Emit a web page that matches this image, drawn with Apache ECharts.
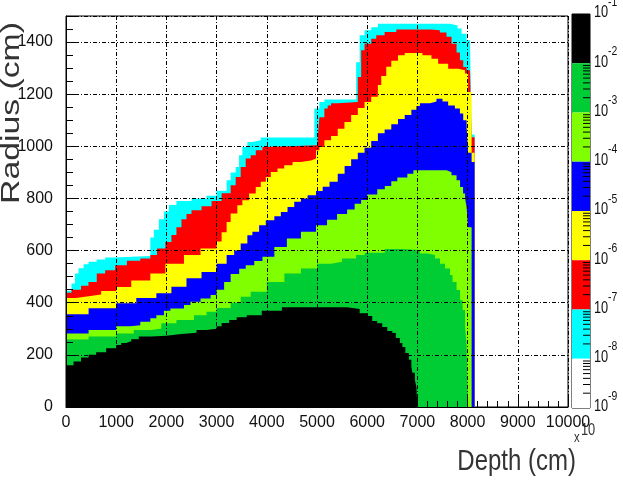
<!DOCTYPE html>
<html>
<head>
<meta charset="utf-8">
<script src="https://cdn.jsdelivr.net/npm/echarts@6.0.0/dist/echarts.min.js"></script>
<style>
  html, body { margin: 0; padding: 0; background: #fff; }
  #chart { width: 623px; height: 485px; }
</style>
</head>
<body>
<div id="chart"></div>
<script>
// upper edge (radius, cm) of each contour level along depth
const cyanEdge = [[0,446],[110,474],[180,512],[250,532],[350,548],[450,557],[610,566],[780,574],[980,579],[1680,650],[1750,680],[1850,720],[1950,750],[2050,775],[2200,790],[2500,800],[2800,810],[3000,830],[3200,870],[3280,900],[3380,921],[3447,966],[3513,997],[3613,1017],[3713,1023],[3880,1034],[4947,1145],[5047,1170],[5147,1180],[5780,1323],[5850,1426],[5947,1445],[6080,1457],[6213,1470],[7650,1464],[7800,1452],[7880,1432],[7980,1407],[8050,1369],[8080,1045],[8140,0]];
const redEdge = [[0,438],[110,450],[300,465],[447,480],[613,512],[780,525],[980,544],[1213,561],[1480,570],[1680,583],[1813,608],[1980,633],[2100,660],[2200,690],[2300,720],[2400,740],[2500,755],[2700,770],[2900,790],[3100,820],[3280,851],[3380,882],[3480,921],[3580,953],[3680,966],[3780,985],[3913,997],[4013,1004],[5013,1030],[5047,1112],[5147,1145],[5213,1157],[5280,1165],[5413,1170],[5813,1266],[5880,1369],[5947,1394],[6080,1413],[6180,1426],[6347,1439],[6580,1448],[7280,1445],[7447,1437],[7580,1420],[7680,1394],[7780,1360],[7847,1330],[7913,1304],[7980,1292],[8047,1285],[8080,1035],[8140,0]];
const yellowEdge = [[0,418],[200,425],[450,432],[700,445],[1000,460],[1300,485],[1680,512],[1980,550],[2350,583],[2680,608],[3000,635],[3100,670],[3200,710],[3280,742],[3413,774],[3513,793],[3647,819],[3780,844],[3880,864],[3980,882],[4080,902],[4213,915],[4347,927],[4513,940],[4680,946],[4880,953],[4980,985],[5047,997],[5147,1023],[5280,1040],[5413,1067],[5547,1093],[5680,1120],[5813,1147],[5947,1170],[6080,1190],[6213,1235],[6280,1270],[6380,1305],[6480,1328],[6613,1349],[6747,1358],[7100,1349],[7280,1336],[7413,1317],[7613,1298],[7813,1292],[7947,1279],[8010,1208],[8080,975],[8140,0]];
const blueEdge = [[0,356],[450,379],[1000,398],[1400,418],[1800,436],[2100,461],[2400,494],[2700,518],[3000,550],[3200,583],[3350,600],[3480,627],[3613,659],[3713,672],[3847,697],[3980,716],[4150,732],[4280,748],[4413,767],[4547,787],[4680,800],[4813,812],[4980,829],[5113,845],[5250,864],[5413,895],[5550,925],[5680,950],[5813,975],[5947,995],[6080,1020],[6213,1050],[6347,1065],[6480,1085],[6613,1105],[6747,1120],[6880,1140],[6980,1155],[7050,1165],[7250,1172],[7380,1183],[7500,1172],[7613,1157],[7747,1145],[7847,1126],[7913,1100],[7980,1074],[8010,975],[8080,940],[8140,0]];
const limeEdge = [[0,282],[450,295],[1000,310],[1280,314],[1480,327],[1680,340],[1800,352],[1950,369],[2080,378],[2350,391],[2480,404],[2680,416],[2880,430],[3000,450],[3150,480],[3280,510],[3450,530],[3580,544],[3750,560],[3913,576],[4150,614],[4400,646],[4680,672],[4980,697],[5200,718],[5400,740],[5600,758],[5750,780],[5880,794],[6000,815],[6200,835],[6350,848],[6480,866],[6600,880],[6800,895],[6920,908],[7580,901],[7680,889],[7780,870],[7850,844],[7910,819],[7950,800],[7980,767],[8010,690],[8080,0]];
const greenEdge = [[0,259],[450,270],[1000,282],[1350,295],[1700,301],[1900,321],[2200,334],[2550,352],[2800,365],[3000,380],[3280,400],[3480,423],[3680,442],[4000,480],[4350,512],[4680,531],[5000,550],[5280,557],[5500,570],[5780,583],[5950,592],[6350,606],[6700,602],[7050,589],[7200,583],[7350,570],[7450,550],[7550,531],[7650,506],[7700,480],[7780,449],[7850,410],[7900,372],[7950,308],[7980,240],[8010,0]];
const blackEdge = [[0,160],[150,175],[300,190],[450,200],[600,210],[800,225],[1000,238],[1100,246],[1200,252],[1300,260],[1450,270],[1700,273],[2000,280],[2300,285],[2600,295],[2800,300],[3000,310],[3100,322],[3250,334],[3400,344],[3600,352],[3900,369],[4300,383],[5600,376],[5850,360],[6000,349],[6100,330],[6200,321],[6300,307],[6400,292],[6500,284],[6570,265],[6650,246],[6700,230],[6760,207],[6830,181],[6880,154],[6900,131],[6950,104],[6980,77],[7000,0]];

// colour scale: decade bands from top (1e-1) to bottom (1e-9)
const paletteColors = ['#000000', '#00cc33', '#80ff00', '#0000ff', '#ffff00', '#ff0000', '#00ffff', '#ffffff'];
const paletteExps = [-1, -2, -3, -4, -5, -6, -7, -8, -9];
const paletteMinor = [2, 3, 4, 5, 6, 7, 8, 9];

const levels = [
  { edge: cyanEdge, color: '#00ffff' },
  { edge: redEdge, color: '#ff0000' },
  { edge: yellowEdge, color: '#ffff00' },
  { edge: blueEdge, color: '#0000ff' },
  { edge: limeEdge, color: '#80ff00' },
  { edge: greenEdge, color: '#00cc33' },
  { edge: blackEdge, color: '#000000' }
];

const sans = "'Liberation Sans', Arial, sans-serif";
const gridDash = { color: '#000', width: 1, type: [4, 2, 1, 2] };
const plain = v => String(v);

const bands = paletteColors.map((c, i) => [Math.pow(10, paletteExps[i + 1]), Math.pow(10, paletteExps[i]), i]);
const bandTicks = [];
paletteExps.slice(1).forEach(e => paletteMinor.forEach(m => bandTicks.push([1, m * Math.pow(10, e)])));

const chart = echarts.init(document.getElementById('chart'), null, { renderer: 'canvas' });

const option = {
  animation: false,
  backgroundColor: '#fff',
  grid: [
    { left: 66, top: 16, width: 502, height: 391, show: true, borderColor: '#000', borderWidth: 1, backgroundColor: '#fff' },
    { left: 572, top: 14, width: 18, height: 394, show: true, borderColor: '#000', borderWidth: 1, backgroundColor: '#fff' }
  ],
  xAxis: [
    {
      gridIndex: 0, type: 'value', min: 0, max: 10000, interval: 1000, z: 5,
      axisLine: { lineStyle: { color: '#000', width: 1 } },
      axisTick: { inside: true, length: 10, lineStyle: { color: '#000' } },
      minorTick: { show: true, splitNumber: 5, length: 6, lineStyle: { color: '#000' } },
      splitLine: { show: true, lineStyle: gridDash },
      axisLabel: { color: '#111', fontFamily: sans, fontSize: 16, margin: 8, formatter: plain }
    },
    { gridIndex: 1, type: 'value', min: 0, max: 1, show: false }
  ],
  yAxis: [
    {
      gridIndex: 0, type: 'value', min: 0, max: 1500, interval: 200, z: 5,
      axisLine: { show: true, lineStyle: { color: '#000', width: 1 } },
      axisTick: { show: true, inside: true, length: 10, lineStyle: { color: '#000' } },
      minorTick: { show: true, splitNumber: 4, length: 7, lineStyle: { color: '#000' } },
      splitLine: { show: true, lineStyle: gridDash },
      axisLabel: { color: '#111', fontFamily: sans, fontSize: 16, margin: 13, showMaxLabel: false, formatter: plain }
    },
    { gridIndex: 1, type: 'log', logBase: 10, min: 1e-9, max: 1e-1, show: false }
  ],
  series: levels.map(l => ({
    type: 'line',
    xAxisIndex: 0,
    yAxisIndex: 0,
    step: 'end',
    data: l.edge,
    symbol: 'none',
    silent: true,
    lineStyle: { width: 0 },
    areaStyle: { color: l.color, opacity: 1 }
  })).concat([
    {
      type: 'custom',
      xAxisIndex: 1,
      yAxisIndex: 1,
      silent: true,
      data: bands,
      renderItem: function (params, api) {
        const a = api.coord([0, api.value(1)]);
        const b = api.coord([1, api.value(0)]);
        return {
          type: 'rect',
          shape: { x: a[0], y: a[1], width: b[0] - a[0], height: b[1] - a[1] },
          style: { fill: paletteColors[api.value(2)] }
        };
      }
    },
    {
      type: 'custom',
      xAxisIndex: 1,
      yAxisIndex: 1,
      silent: true,
      z: 4,
      data: bandTicks,
      renderItem: function (params, api) {
        const p = api.coord([1, api.value(1)]);
        return {
          type: 'line',
          shape: { x1: p[0], y1: p[1], x2: p[0] - 7, y2: p[1] },
          style: { stroke: '#000', lineWidth: 1 }
        };
      }
    },
    {
      type: 'custom',
      xAxisIndex: 1,
      yAxisIndex: 1,
      silent: true,
      z: 4,
      data: paletteExps.map(e => [1, Math.pow(10, e), e]),
      renderItem: function (params, api) {
        const p = api.coord([1, api.value(1)]);
        return {
          type: 'group',
          children: [
            { type: 'text', x: p[0] + 4, y: p[1] - 1, scaleX: 0.8,
              style: { text: '10', fontSize: 16, fontFamily: sans, fill: '#111', align: 'left', verticalAlign: 'middle' } },
            { type: 'text', x: p[0] + 18, y: p[1] - 12, scaleX: 0.8,
              style: { text: String(api.value(2)), fontSize: 13, fontFamily: sans, fill: '#111', align: 'left', verticalAlign: 'middle' } }
          ]
        };
      }
    }
  ]),
  graphic: [
    { type: 'text', x: 12, y: 113, rotation: Math.PI / 2, scaleX: 1.35,
      style: { text: 'Radius (cm)', fontSize: 25, fontFamily: sans, fill: '#333', align: 'center', verticalAlign: 'middle' } },
    { type: 'text', x: 576, y: 462, scaleX: 0.8,
      style: { text: 'Depth (cm)', fontSize: 30, fontFamily: sans, fill: '#333', align: 'right', verticalAlign: 'middle' } },
    { type: 'text', x: 574, y: 438, scaleX: 0.8,
      style: { text: 'x', fontSize: 14, fontFamily: sans, fill: '#333', align: 'left', verticalAlign: 'middle' } },
    { type: 'text', x: 581, y: 431, scaleX: 0.8,
      style: { text: '10', fontSize: 16, fontFamily: sans, fill: '#333', align: 'left', verticalAlign: 'middle' } }
  ]
};

chart.setOption(option);
</script>
</body>
</html>
